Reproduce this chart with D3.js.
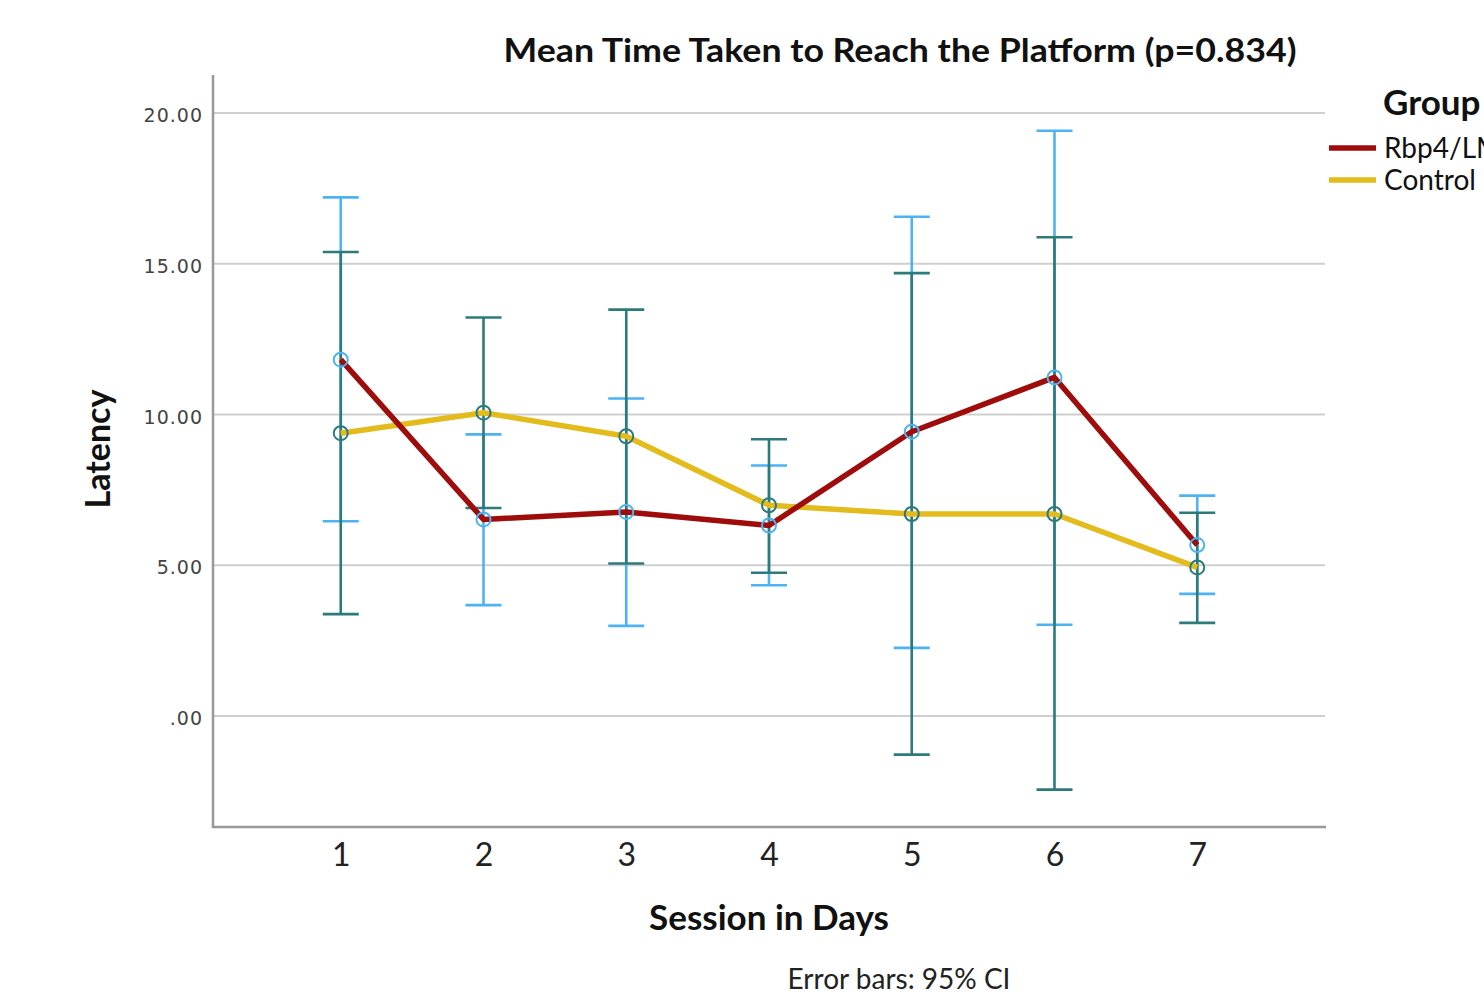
<!DOCTYPE html>
<html>
<head>
<meta charset="utf-8">
<script src="https://cdn.jsdelivr.net/npm/d3@7"></script>
<style>
  html, body { margin: 0; padding: 0; background: #fff; overflow: hidden; }
  svg { display: block; }
</style>
</head>
<body>
<svg id="chart" width="1484" height="1005"></svg>
<script>
// Sessions on the x axis
const sessions = ["1", "2", "3", "4", "5", "6", "7"];
// Group names
const groups = ["Rbp4/LM", "Control"];
// Mean latency per session and the 95% CI bounds
const rbpMean  = [11.82, 6.52, 6.77, 6.32, 9.43, 11.23, 5.67];
const rbpLow   = [6.46, 3.68, 2.99, 4.34, 2.26, 3.03, 4.05];
const rbpHigh  = [17.20, 9.34, 10.53, 8.31, 16.56, 19.41, 7.31];
const ctrlMean = [9.38, 10.06, 9.28, 6.99, 6.70, 6.70, 4.93];
const ctrlLow  = [3.38, 6.90, 5.06, 4.75, -1.28, -2.44, 3.09];
const ctrlHigh = [15.39, 13.22, 13.48, 9.18, 14.69, 15.88, 6.74];
// Y tick values and their labels
const yTicks = [0, 5, 10, 15, 20];
const yTickLabels = [".00", "5.00", "10.00", "15.00", "20.00"];

const svg = d3.select("#chart");
const plotLeft = 213, plotRight = 1325, plotTop = 75, plotBottom = 827;
const sans = "Lato, 'Open Sans', sans-serif";

const x = d3.scalePoint().domain(sessions).range([plotLeft, plotRight]).padding(0.895);
const y = d3.scaleLinear().domain([-3.68, 21.26]).range([plotBottom, plotTop]);

// grid lines
svg.append("g").selectAll("line").data(yTicks).join("line")
  .attr("x1", plotLeft).attr("x2", plotRight)
  .attr("y1", d => y(d)).attr("y2", d => y(d))
  .attr("stroke", "#cfcfcf").attr("stroke-width", 2);

// y axis
const yAxis = d3.axisLeft(y).tickValues(yTicks)
  .tickFormat((d, i) => yTickLabels[i]).tickSize(0).tickPadding(10);
const gy = svg.append("g").attr("transform", `translate(${plotLeft},0)`).call(yAxis);
gy.select(".domain").remove();
gy.selectAll("text")
  .attr("font-family", "'DejaVu Sans', Verdana, sans-serif")
  .attr("font-size", 19).attr("letter-spacing", 1).attr("fill", "#444")
  .attr("dy", "0.45em");

// x axis
const xAxis = d3.axisBottom(x).tickSize(0).tickPadding(16);
const gx = svg.append("g").attr("transform", `translate(0,${plotBottom})`).call(xAxis);
gx.select(".domain").remove();
gx.selectAll("text")
  .attr("font-family", sans)
  .attr("font-size", 32).attr("fill", "#222").attr("dy", "0.72em");

// axis frame lines
svg.append("line").attr("x1", plotLeft).attr("x2", plotLeft).attr("y1", plotTop).attr("y2", plotBottom + 1)
  .attr("stroke", "#999").attr("stroke-width", 2.5);
svg.append("line").attr("x1", plotLeft).attr("x2", plotRight + 1).attr("y1", plotBottom).attr("y2", plotBottom)
  .attr("stroke", "#999").attr("stroke-width", 2.5);

// error bars
function errorBars(low, high, color) {
  const g = svg.append("g").attr("stroke", color).attr("stroke-width", 2.6);
  sessions.forEach((s, i) => {
    const cx = x(s);
    g.append("line").attr("x1", cx).attr("x2", cx).attr("y1", y(low[i])).attr("y2", y(high[i]));
    g.append("line").attr("x1", cx - 18).attr("x2", cx + 18).attr("y1", y(low[i])).attr("y2", y(low[i]));
    g.append("line").attr("x1", cx - 18).attr("x2", cx + 18).attr("y1", y(high[i])).attr("y2", y(high[i]));
  });
}
errorBars(rbpLow, rbpHigh, "#4db3f2");
errorBars(ctrlLow, ctrlHigh, "#2c7a7b");

// mean lines
const line = d3.line().x((d, i) => x(sessions[i])).y(d => y(d));
svg.append("path").datum(ctrlMean).attr("d", line)
  .attr("fill", "none").attr("stroke", "#e3bb1c").attr("stroke-width", 5.5)
  .attr("stroke-linejoin", "round");
svg.append("path").datum(rbpMean).attr("d", line)
  .attr("fill", "none").attr("stroke", "#9e0c0c").attr("stroke-width", 5.5)
  .attr("stroke-linejoin", "round");

// mean markers
svg.append("g").selectAll("circle").data(ctrlMean).join("circle")
  .attr("cx", (d, i) => x(sessions[i])).attr("cy", d => y(d)).attr("r", 7)
  .attr("fill", "none").attr("stroke", "#2c7a7b").attr("stroke-width", 2);
svg.append("g").selectAll("circle").data(rbpMean).join("circle")
  .attr("cx", (d, i) => x(sessions[i])).attr("cy", d => y(d)).attr("r", 7)
  .attr("fill", "none").attr("stroke", "#4db3f2").attr("stroke-width", 2);

// title
svg.append("text").attr("x", 900).attr("y", 62).attr("text-anchor", "middle")
  .attr("font-family", sans).attr("font-weight", "bold")
  .attr("font-size", 33).attr("fill", "#111")
  .attr("textLength", 793).attr("lengthAdjust", "spacingAndGlyphs")
  .text("Mean Time Taken to Reach the Platform (p=0.834)");

// axis titles
svg.append("text").attr("transform", "translate(110,449) rotate(-90)")
  .attr("text-anchor", "middle")
  .attr("font-family", sans).attr("font-weight", "bold")
  .attr("font-size", 34).attr("fill", "#111").text("Latency");
svg.append("text").attr("x", 769).attr("y", 930).attr("text-anchor", "middle")
  .attr("font-family", sans).attr("font-weight", "bold")
  .attr("font-size", 35).attr("fill", "#111").text("Session in Days");
svg.append("text").attr("x", 899).attr("y", 989).attr("text-anchor", "middle")
  .attr("font-family", sans)
  .attr("font-size", 28).attr("fill", "#222").text("Error bars: 95% CI");

// legend
svg.append("text").attr("x", 1383).attr("y", 115)
  .attr("font-family", sans).attr("font-weight", "bold")
  .attr("font-size", 35).attr("fill", "#111").text("Group");
const legendColors = ["#9e0c0c", "#e3bb1c"];
const lg = svg.append("g").selectAll("g").data(groups).join("g")
  .attr("transform", (d, i) => `translate(1329,${148 + i * 32})`);
lg.append("line").attr("x1", 0).attr("x2", 47).attr("y1", 0).attr("y2", 0)
  .attr("stroke", (d, i) => legendColors[i]).attr("stroke-width", 5.5);
lg.append("text").attr("x", 55).attr("y", 0).attr("dy", "0.35em")
  .attr("font-family", sans)
  .attr("font-size", 28).attr("fill", "#111").text(d => d);
</script>
</body>
</html>
